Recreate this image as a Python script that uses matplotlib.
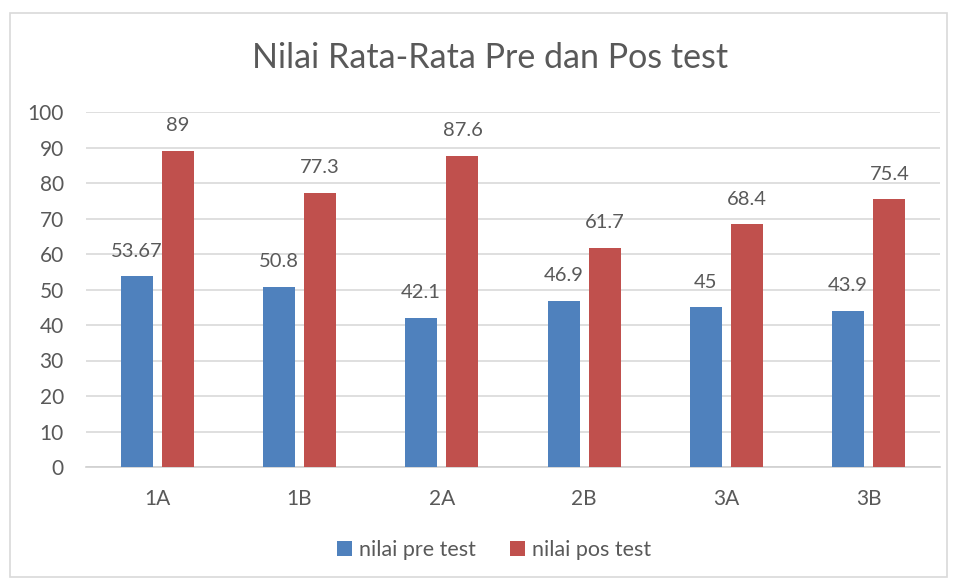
import numpy as np
import matplotlib.pyplot as plt
from matplotlib.patches import Rectangle

categories = ['1A', '1B', '2A', '2B', '3A', '3B']
pre_test = [53.67, 50.8, 42.1, 46.9, 45, 43.9]
pos_test = [89, 77.3, 87.6, 61.7, 68.4, 75.4]
pre_labels = ['53.67', '50.8', '42.1', '46.9', '45', '43.9']
pos_labels = ['89', '77.3', '87.6', '61.7', '68.4', '75.4']

plt.rcParams['font.family'] = ['Lato', 'DejaVu Sans']
txt = '#595959'

fig = plt.figure(figsize=(9.57, 5.8), dpi=100)
ax = fig.add_axes([86/957, 1 - 467/580, 854/957, 355/580])

x = np.arange(len(categories))
w = 0.225
off = 0.145
b1 = ax.bar(x - off, pre_test, w, color='#4F81BD', label='nilai pre test', zorder=3)
b2 = ax.bar(x + off, pos_test, w, color='#C0504D', label='nilai pos test', zorder=3)

for rect, lab in zip(b1, pre_labels):
    ax.annotate(lab, (rect.get_x() + rect.get_width() / 2, rect.get_height()),
                xytext=(0, 12), textcoords='offset points', ha='center', va='bottom',
                fontsize=14.5, color=txt)
for rect, lab in zip(b2, pos_labels):
    ax.annotate(lab, (rect.get_x() + rect.get_width() / 2, rect.get_height()),
                xytext=(0, 12), textcoords='offset points', ha='center', va='bottom',
                fontsize=14.5, color=txt)

ax.set_xlim(-0.5, len(categories) - 0.5)
ax.set_ylim(0, 100)
ax.set_yticks(np.arange(0, 101, 10))
ax.set_xticks(x)
ax.set_xticklabels(categories)
ax.yaxis.grid(True, color='#D9D9D9', lw=1.2, zorder=0)
ax.tick_params(length=0, labelsize=15, colors=txt)
ax.tick_params(axis='x', pad=16)
ax.tick_params(axis='y', pad=16)
for s in ['top', 'right', 'left']:
    ax.spines[s].set_visible(False)
ax.spines['bottom'].set_color('#D0D0D0')
ax.spines['bottom'].set_linewidth(1.2)

fig.text(490/957, 1 - 58/580, 'Nilai Rata-Rata Pre dan Pos test', ha='center', va='center',
         fontsize=24.5, color=txt)

fig.legend(handles=[b1, b2], loc='center', bbox_to_anchor=(494/957, 1 - 550/580), ncol=2,
           frameon=False, fontsize=15.5, labelcolor=txt, handlelength=0.7, handleheight=0.7,
           handletextpad=0.3, columnspacing=1.6)

fig.patches.append(Rectangle((10/957, 1 - 577/580), 937/957, 564/580, transform=fig.transFigure,
                             fill=False, edgecolor='#D9D9D9', lw=1.2))

fig.savefig('out.png', dpi=100)
